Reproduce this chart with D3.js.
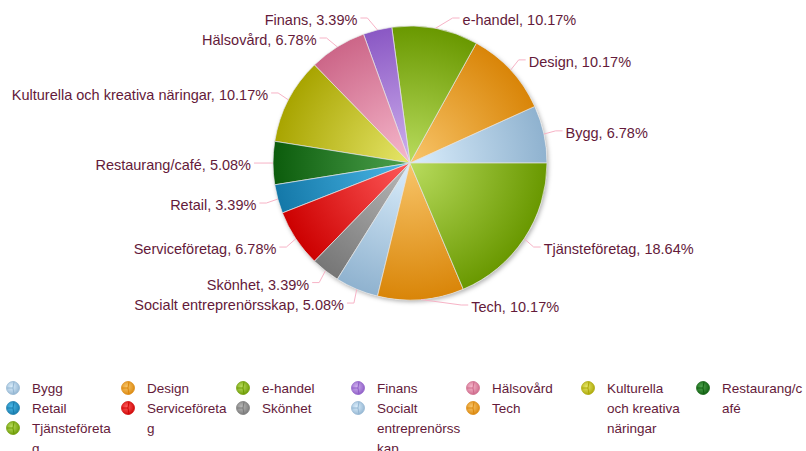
<!DOCTYPE html>
<html>
<head>
<meta charset="utf-8">
<script src="https://cdn.jsdelivr.net/npm/d3@7"></script>
<style>
body { margin: 0; background: #fff; }
svg text { font-family: "Liberation Sans", Arial, sans-serif; font-size: 14.5px; fill: #641a3a; }
svg .legend text { font-size: 13.5px; }
</style>
</head>
<body>
<div class="content"></div>
<script>
var size = {width: 806, height: 451};
var pieCenter = {x: 410, y: 163}, radius = 137;

// data
var categories = ["Bygg", "Design", "e-handel", "Finans", "Hälsovård",
    "Kulturella och kreativa näringar", "Restaurang/café", "Retail",
    "Serviceföretag", "Skönhet", "Socialt entreprenörsskap", "Tech", "Tjänsteföretag"];
var shares = [6.78, 10.17, 10.17, 3.39, 6.78, 10.17, 5.08, 3.39, 6.78, 3.39, 5.08, 10.17, 18.64];
// legend labels as they wrap in the legend box
var legendText = ["Bygg", "Design", "e-handel", "Finans", "Hälsovård",
    "Kulturella|och kreativa|näringar", "Restaurang/c|afé", "Retail",
    "Serviceföreta|g", "Skönhet", "Socialt|entreprenörss|kap", "Tech", "Tjänsteföreta|g"];

var lightColors = ["#dbeefc", "#f8c56a", "#b9dc5e", "#cfb0ee", "#f6b8cc", "#e6e66a", "#4ea24e", "#4cb8e8", "#ff5a5a", "#b8b8b8"];
var darkColors  = ["#8fb2cf", "#d98508", "#699800", "#8a58c4", "#cc6688", "#a8a400", "#0c5c0c", "#1478a8", "#cc0000", "#767676"];

var data = categories.map(function(c, i) { return {name: c, value: shares[i], idx: i}; });
var colIdx = function(i) { return i % lightColors.length; };

var chart = d3.select('.content')
    .append('svg')
    .attr('width', size.width)
    .attr('height', size.height);

var defs = chart.append('defs');
var shadow = defs.append('filter').attr('id', 'shadow')
    .attr('x', '-10%').attr('y', '-10%').attr('width', '130%').attr('height', '130%');
shadow.append('feDropShadow').attr('dx', 1.5).attr('dy', 2).attr('stdDeviation', 2)
    .attr('flood-color', '#000').attr('flood-opacity', 0.3);

lightColors.forEach(function(c, i) {
    // slice gradient, centred on the pie centre (plot coords)
    var g = defs.append('radialGradient').attr('id', 'grad' + i)
        .attr('gradientUnits', 'userSpaceOnUse')
        .attr('cx', 0).attr('cy', 0).attr('r', radius);
    g.append('stop').attr('offset', '0%').attr('stop-color', lightColors[i]);
    g.append('stop').attr('offset', '100%').attr('stop-color', darkColors[i]);
    var lg = defs.append('radialGradient').attr('id', 'lgrad' + i)
        .attr('cx', '40%').attr('cy', '40%').attr('r', '70%');
    lg.append('stop').attr('offset', '0%').attr('stop-color', lightColors[i]);
    lg.append('stop').attr('offset', '100%').attr('stop-color', darkColors[i]);
});

// pie goes counter-clockwise from 3 o'clock
var pie = d3.pie().sort(null).value(function(d) { return d.value; })
    .startAngle(Math.PI / 2).endAngle(Math.PI / 2 - 2 * Math.PI);
var arc = d3.arc().innerRadius(0).outerRadius(radius);
var arcs = pie(data);

var plot = chart.append('g')
    .attr('transform', 'translate(' + pieCenter.x + ',' + pieCenter.y + ')');

plot.append('circle').attr('r', radius).attr('fill', '#fff').attr('filter', 'url(#shadow)');

plot.selectAll('path.slice').data(arcs).enter().append('path')
    .attr('class', 'slice')
    .attr('d', arc)
    .attr('fill', function(d) { return 'url(#grad' + colIdx(d.data.idx) + ')'; })
    .attr('stroke', '#e4e4e4')
    .attr('stroke-width', 0.7);

// data labels
var labelR = 152, yTop = 18 - pieCenter.y, yBot = 305 - pieCenter.y, gap = 20;
var labels = arcs.map(function(d) {
    var a = (d.startAngle + d.endAngle) / 2;
    return {d: d, a: a, side: Math.sin(a) >= 0 ? 1 : -1,
            y: Math.max(yTop, Math.min(yBot, -labelR * Math.cos(a)))};
});
[1, -1].forEach(function(side) {
    var ls = labels.filter(function(l) { return l.side === side; })
        .sort(function(a, b) { return a.y - b.y; });
    for (var i = 1; i < ls.length; i++) {
        if (ls[i].y - ls[i - 1].y < gap) ls[i].y = ls[i - 1].y + gap;
    }
});
labels.forEach(function(l) {
    var dy = Math.min(Math.abs(l.y), labelR);
    l.x = l.side * (Math.sqrt(labelR * labelR - dy * dy) + 4);
});

plot.selectAll('path.connector').data(labels).enter().append('path')
    .attr('class', 'connector')
    .attr('fill', 'none')
    .attr('stroke', '#f7b3c6')
    .attr('stroke-width', 1)
    .attr('d', function(l) {
        var ex = radius * Math.sin(l.a), ey = -radius * Math.cos(l.a);
        return 'M' + ex + ',' + ey + 'L' + (l.x - l.side * 7) + ',' + l.y + 'L' + l.x + ',' + l.y;
    });

plot.selectAll('text.label').data(labels).enter().append('text')
    .attr('class', 'label')
    .attr('x', function(l) { return l.x + l.side * 3; })
    .attr('y', function(l) { return l.y + 7; })
    .attr('text-anchor', function(l) { return l.side > 0 ? 'start' : 'end'; })
    .text(function(l) { return l.d.data.name + ', ' + d3.format('.2f')(l.d.data.value) + '%'; });

// legend: floating items in 7 columns
var nCols = 7, colW = 115, legX = 13, legY = 388, rowH = 20;
var colFree = d3.range(nCols).map(function() { return 0; });
var row = 0, col = 0;
var items = legendText.map(function(t, i) {
    var lines = t.split('|');
    while (true) {
        while (col < nCols && colFree[col] > row) col++;
        if (col < nCols) break;
        row++; col = 0;
    }
    var it = {i: i, lines: lines, row: row, col: col};
    colFree[col] = row + lines.length;
    col++;
    return it;
});

var legend = chart.append('g').attr('class', 'legend');
var li = legend.selectAll('g.item').data(items).enter().append('g')
    .attr('class', 'item')
    .attr('transform', function(d) {
        return 'translate(' + (legX + d.col * colW) + ',' + (legY + d.row * rowH) + ')';
    });
li.append('circle').attr('r', 6.5)
    .attr('fill', function(d) { return 'url(#lgrad' + colIdx(d.i) + ')'; })
    .attr('stroke', function(d) { return darkColors[colIdx(d.i)]; })
    .attr('stroke-opacity', 0.7);
li.append('path')
    .attr('fill', 'none')
    .attr('stroke', function(d) { return darkColors[colIdx(d.i)]; })
    .attr('stroke-width', 0.9)
    .attr('d', 'M1,-6.5Q-1,0 1,6.5M0,0L-6,0');
li.append('text')
    .attr('x', 19)
    .attr('y', 5)
    .selectAll('tspan').data(function(d) { return d.lines; }).enter().append('tspan')
    .attr('x', 19)
    .attr('dy', function(t, k) { return k === 0 ? 0 : rowH; })
    .text(function(t) { return t; });
</script>
</body>
</html>
